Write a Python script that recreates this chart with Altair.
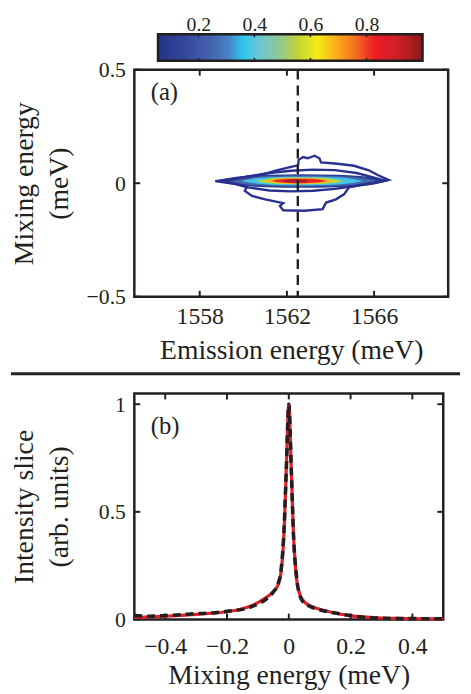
import altair as alt
import pandas as pd

FONT = "Liberation Serif, Times New Roman, DejaVu Serif, serif"
INK = "#231f20"
NAVY = "#283190"

# ---------------- colour map ----------------
CMAP_STOPS = [0.056, 0.15, 0.25, 0.31, 0.358, 0.42, 0.49, 0.56, 0.625, 0.70, 0.76, 0.83, 0.90, 1.0]
CMAP_COLORS = ["#24338a", "#34469a", "#4466b0", "#4585c5", "#2ec5ef", "#6cc6d2", "#92c890",
               "#c5d632", "#f7ec17", "#faa51b", "#f47022", "#ec1c24", "#d41f27", "#8b1a1d"]
CB_TICKS = [0.2, 0.4, 0.6, 0.8]

# ---------------- panel (a) ----------------
EMISSION_DOMAIN = [1555.0, 1569.4]
MIXING_DOMAIN_A = [-0.5, 0.5]
X_TICKS_A = [1558, 1562, 1566]
Y_TICKS_A = [-0.5, 0, 0.5]
SLICE_E = [1562.5]

# filled intensity levels (nested lenses): level, left tip, right tip, half height
CORE_M = 0.01
FILL_LEVELS = [0.10, 0.25, 0.38, 0.55, 0.68, 0.82, 0.95]
FILL_LEFT = [1558.7, 1559.2, 1559.9, 1560.6, 1561.0, 1561.3, 1561.8]
FILL_RIGHT = [1566.7, 1566.2, 1565.5, 1564.6, 1564.1, 1563.8, 1563.0]
FILL_HALF = [0.030, 0.024, 0.019, 0.015, 0.012, 0.010, 0.007]
PROFILE_T = [0.0, 0.12, 0.3, 0.5, 0.7, 0.88, 1.0]
PROFILE_H = [0.0, 0.6, 0.92, 1.0, 0.92, 0.6, 0.0]

# low-level contour outlines
OUTER_E = [1558.71, 1559.80, 1560.86, 1561.53, 1562.14, 1562.51, 1562.54, 1562.74, 1562.96, 1563.27,
           1563.49, 1563.57, 1564.32, 1565.08, 1565.76, 1566.21, 1566.66, 1566.13, 1565.38, 1564.85,
           1564.62, 1564.25, 1563.80, 1563.64, 1562.81, 1561.83, 1561.68, 1561.83, 1561.00, 1560.40,
           1560.07, 1560.17, 1559.50, 1558.71]
OUTER_M = [0.009, 0.022, 0.038, 0.057, 0.071, 0.079, 0.103, 0.115, 0.110, 0.121,
           0.110, 0.092, 0.086, 0.077, 0.057, 0.034, 0.015, 0.005, -0.007, -0.018,
           -0.049, -0.071, -0.085, -0.114, -0.121, -0.119, -0.100, -0.088, -0.071, -0.056,
           -0.034, -0.016, -0.001, 0.009]
INNER_E = [1559.2, 1560.2, 1561.2, 1562.2, 1563.2, 1564.2, 1565.2, 1566.0, 1566.5,
           1566.0, 1565.2, 1564.2, 1563.2, 1562.2, 1561.2, 1560.2, 1559.2]
INNER_M = [0.009, 0.030, 0.045, 0.055, 0.060, 0.058, 0.045, 0.025, 0.011,
           0.000, -0.012, -0.025, -0.033, -0.036, -0.032, -0.018, 0.009]

# ---------------- panel (b) ----------------
MIX_X = [-0.5, -0.45, -0.4, -0.35, -0.3, -0.25, -0.2, -0.15, -0.1, -0.07, -0.05, -0.035, -0.025,
         -0.015, -0.008, 0.0, 0.008, 0.015, 0.025, 0.035, 0.05, 0.07, 0.1, 0.15, 0.2, 0.25, 0.3,
         0.35, 0.4, 0.45, 0.5]
FIT_Y = [0.010, 0.012, 0.015, 0.019, 0.024, 0.029, 0.036, 0.050, 0.078, 0.105, 0.130, 0.160, 0.220,
         0.420, 0.700, 1.000, 0.700, 0.400, 0.190, 0.120, 0.082, 0.063, 0.047, 0.030, 0.017, 0.011,
         0.007, 0.005, 0.004, 0.003, 0.002]
DATA_Y = [0.018, 0.015, 0.018, 0.022, 0.027, 0.030, 0.038, 0.047, 0.072, 0.098, 0.128, 0.165, 0.230,
          0.430, 0.700, 1.000, 0.700, 0.400, 0.200, 0.115, 0.075, 0.060, 0.045, 0.030, 0.018, 0.009,
          0.006, 0.004, 0.004, 0.003, 0.003]
MIXING_DOMAIN_B = [-0.5, 0.5]
INTENSITY_DOMAIN = [0.0, 1.05]
X_TICKS_B = [-0.4, -0.2, 0, 0.2, 0.4]
Y_TICKS_B = [0, 0.5, 1]

W_A, H_A = 318, 230
W_B, H_B = 313, 229
TICK = 6
TITLE_SIZE = 28
XLABEL_SIZE = 24
YLABEL_SIZE = 22

# ---------------- shared encodings ----------------
def ex_a():
    return alt.X("e:Q", scale=alt.Scale(domain=EMISSION_DOMAIN, nice=False, zero=False),
                 axis=alt.Axis(title="Emission energy (meV)", values=X_TICKS_A, format="d",
                               labelFontSize=XLABEL_SIZE, labelPadding=8,
                               titleFontSize=TITLE_SIZE, titlePadding=9))

def my_a():
    return alt.Y("m:Q", scale=alt.Scale(domain=MIXING_DOMAIN_A, nice=False, zero=False),
                 axis=alt.Axis(title=["Mixing energy", "(meV)"], values=Y_TICKS_A, format="~g",
                               labelFontSize=YLABEL_SIZE, labelPadding=9, titleFontSize=TITLE_SIZE,
                               titleLineHeight=35, minExtent=50, maxExtent=50, titlePadding=12))

def ex_b():
    return alt.X("x:Q", scale=alt.Scale(domain=MIXING_DOMAIN_B, nice=False, zero=False),
                 axis=alt.Axis(title="Mixing energy (meV)", values=X_TICKS_B, format="~g",
                               labelFontSize=XLABEL_SIZE, labelPadding=15,
                               titleFontSize=TITLE_SIZE, titlePadding=4))

def iy_b():
    return alt.Y("y:Q", scale=alt.Scale(domain=INTENSITY_DOMAIN, nice=False, zero=False),
                 axis=alt.Axis(title=["Intensity slice", "(arb. units)"], values=Y_TICKS_B,
                               format="~g", labelFontSize=YLABEL_SIZE, labelPadding=9,
                               titleFontSize=TITLE_SIZE, titleLineHeight=35,
                               minExtent=50, maxExtent=50, titlePadding=12))

color_scale = alt.Scale(domain=CMAP_STOPS, range=CMAP_COLORS, interpolate="rgb")

# ---------------- panel (a) layers ----------------
fill_rows = []
for i, (lv, lo, hi, h) in enumerate(zip(FILL_LEVELS, FILL_LEFT, FILL_RIGHT, FILL_HALF)):
    for t, p in zip(PROFILE_T, PROFILE_H):
        fill_rows.append({"e": lo + t * (hi - lo), "m": CORE_M + h * p, "m2": CORE_M - h * p,
                          "level": lv, "grp": f"L{i}"})
fill_df = pd.DataFrame(fill_rows)

fill = alt.Chart(fill_df).mark_area(interpolate="monotone").encode(
    x=ex_a(), y=my_a(), y2="m2:Q",
    color=alt.Color("level:Q", scale=color_scale, legend=None),
    detail="grp:N",
)

cont_rows = []
for cid, (es, ms) in enumerate([(OUTER_E, OUTER_M), (INNER_E, INNER_M)]):
    for k, (e, m) in enumerate(zip(es, ms)):
        cont_rows.append({"e": e, "m": m, "cid": cid, "idx": k})
cont_df = pd.DataFrame(cont_rows)

contours = alt.Chart(cont_df).mark_line(color=NAVY, strokeWidth=2.4, interpolate="linear").encode(
    x=ex_a(), y=my_a(), detail="cid:N", order="idx:Q")

dash = alt.Chart(pd.DataFrame({"e": SLICE_E})).mark_rule(
    color=INK, strokeWidth=2.4, strokeDash=[10, 6]).encode(x=ex_a())

xt_a = pd.DataFrame({"e": X_TICKS_A})
yt_a = pd.DataFrame({"m": Y_TICKS_A})
ticks_a = [
    alt.Chart(xt_a).mark_rule(color=INK, strokeWidth=2).encode(
        x=ex_a(), y=alt.value(H_A), y2=alt.value(H_A - TICK)),
    alt.Chart(xt_a).mark_rule(color=INK, strokeWidth=2).encode(
        x=ex_a(), y=alt.value(0), y2=alt.value(TICK)),
    alt.Chart(yt_a).mark_rule(color=INK, strokeWidth=2).encode(
        y=my_a(), x=alt.value(0), x2=alt.value(TICK)),
    alt.Chart(yt_a).mark_rule(color=INK, strokeWidth=2).encode(
        y=my_a(), x=alt.value(W_A), x2=alt.value(W_A - TICK)),
]

label_a = alt.Chart(pd.DataFrame({"e": [1555.75], "m": [0.40], "t": ["(a)"]})).mark_text(
    font=FONT, fontSize=25, align="left", baseline="middle", color=INK).encode(
    x=ex_a(), y=my_a(), text="t:N")

main_a = alt.layer(fill, contours, dash, *ticks_a, label_a)

# colour bar (own x scale, drawn above the plot)
cb_scale = alt.Scale(domain=[CMAP_STOPS[0], CMAP_STOPS[-1]], range=[24, 292], nice=False, zero=False)
span = CMAP_STOPS[-1] - CMAP_STOPS[0]
gradient = alt.LinearGradient(
    gradient="linear", x1=0, x2=1, y1=0, y2=0,
    stops=[alt.GradientStop(color=c, offset=(s - CMAP_STOPS[0]) / span)
           for s, c in zip(CMAP_STOPS, CMAP_COLORS)])
cb_df = pd.DataFrame({"lo": [CMAP_STOPS[0]], "hi": [CMAP_STOPS[-1]]})
cb_rect = alt.Chart(cb_df).mark_rect(color=gradient, stroke=INK, strokeWidth=2.5).encode(
    x=alt.X("lo:Q", scale=cb_scale,
            axis=alt.Axis(orient="top", offset=36, values=CB_TICKS, format=".1f", title=None,
                          labelFontSize=20, labelPadding=0)),
    x2="hi:Q", y=alt.value(-36), y2=alt.value(-9))
cbt = pd.DataFrame({"lo": CB_TICKS})
cb_t1 = alt.Chart(cbt).mark_rule(color=INK, strokeWidth=1.5).encode(
    x=alt.X("lo:Q", scale=cb_scale), y=alt.value(-36), y2=alt.value(-33))
cb_t2 = alt.Chart(cbt).mark_rule(color=INK, strokeWidth=1.5).encode(
    x=alt.X("lo:Q", scale=cb_scale), y=alt.value(-12), y2=alt.value(-9))
cbar = alt.layer(cb_rect, cb_t1, cb_t2)

top = alt.layer(main_a, cbar).resolve_scale(x="independent").properties(width=W_A, height=H_A)

# ---------------- panel (b) layers ----------------
fit_df = pd.DataFrame({"x": MIX_X, "y": FIT_Y})
data_df = pd.DataFrame({"x": MIX_X, "y": DATA_Y})
fit_line = alt.Chart(fit_df).mark_line(color="#e31e26", strokeWidth=3.2, interpolate="monotone").encode(
    x=ex_b(), y=iy_b())
data_line = alt.Chart(data_df).mark_line(color=INK, strokeWidth=3.6, strokeDash=[8, 5],
                                         interpolate="monotone").encode(x=ex_b(), y=iy_b())

xt_b = pd.DataFrame({"x": X_TICKS_B})
yt_b = pd.DataFrame({"y": Y_TICKS_B})
ticks_b = [
    alt.Chart(xt_b).mark_rule(color=INK, strokeWidth=2).encode(
        x=ex_b(), y=alt.value(H_B), y2=alt.value(H_B - TICK)),
    alt.Chart(xt_b).mark_rule(color=INK, strokeWidth=2).encode(
        x=ex_b(), y=alt.value(0), y2=alt.value(TICK)),
    alt.Chart(yt_b).mark_rule(color=INK, strokeWidth=2).encode(
        y=iy_b(), x=alt.value(0), x2=alt.value(TICK)),
    alt.Chart(yt_b).mark_rule(color=INK, strokeWidth=2).encode(
        y=iy_b(), x=alt.value(W_B), x2=alt.value(W_B - TICK)),
]

label_b = alt.Chart(pd.DataFrame({"x": [-0.447], "y": [0.90], "t": ["(b)"]})).mark_text(
    font=FONT, fontSize=25, align="left", baseline="middle", color=INK).encode(
    x=ex_b(), y=iy_b(), text="t:N")

separator = alt.Chart(pd.DataFrame({"k": [0]})).mark_rule(color=INK, strokeWidth=3).encode(
    x=alt.value(-125), x2=alt.value(330), y=alt.value(-20))

bottom = alt.layer(*ticks_b, fit_line, data_line, label_b, separator).properties(
    width=W_B, height=H_B)

chart = alt.vconcat(top, bottom, spacing=98, bounds="flush").properties(
    padding={"left": 0, "top": 0, "right": 0, "bottom": 0}
).configure(font=FONT).configure_view(
    stroke=INK, strokeWidth=2.5
).configure_axis(
    domain=False, ticks=False, tickSize=0, grid=False, labelFont=FONT, titleFont=FONT,
    titleFontWeight="normal", labelColor=INK, titleColor=INK
)

chart.save("out.html", embed_options={"renderer": "svg", "actions": False})
